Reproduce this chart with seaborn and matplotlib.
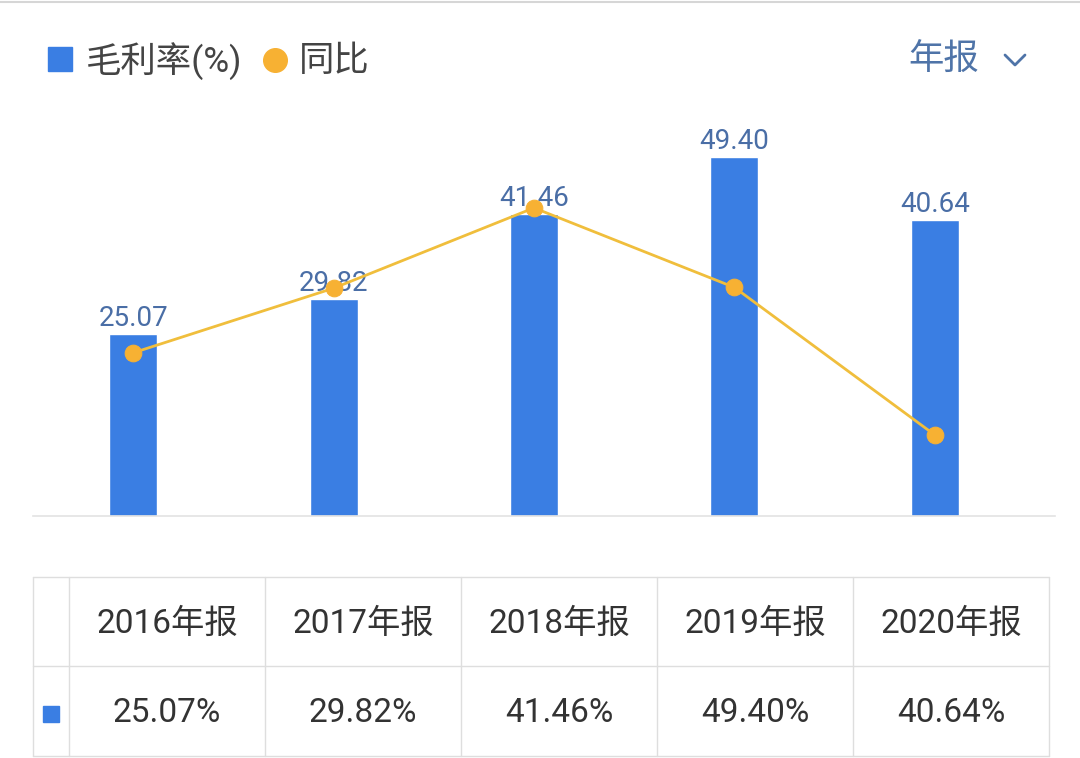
import matplotlib
matplotlib.use("Agg")
import matplotlib.pyplot as plt
from matplotlib.lines import Line2D
import seaborn as sns
import numpy as np
import pandas as pd

# ---------------- data ----------------
years = ["2016年报", "2017年报", "2018年报", "2019年报", "2020年报"]
gross_margin = [25.07, 29.82, 41.46, 49.40, 40.64]   # 毛利率(%)
yoy = [2.8, 18.95, 39.03, 19.15, -17.73]              # 同比(%)
legend_labels = ["毛利率(%)", "同比"]
period_label = "年报"

# ---------------- style ----------------
sns.set_theme(style="white")
FONT = ["Roboto", "Noto Sans CJK SC", "DejaVu Sans"]
plt.rcParams["font.family"] = FONT

BAR = "#3a7ee3"
LINE = "#f0be3c"
MARK = "#f7b133"
LABEL = "#4a6ea6"
TEXT = "#333333"
GRID = "#dedede"

W, H = 1080, 758
fig = plt.figure(figsize=(W / 100, H / 100), dpi=100)
fig.patch.set_facecolor("white")

def fx(px):
    return px / W

def fy(py):
    return 1 - py / H

# ---------------- main chart ----------------
ax = fig.add_axes([fx(33), fy(516), 1022 / W, 416 / H])
df = pd.DataFrame({"year": years, "margin": gross_margin, "yoy": yoy})
sns.barplot(data=df, x="year", y="margin", color=BAR, width=0.24,
            saturation=1, ax=ax, zorder=2)
ax.set_xlim(-0.5, 4.6)
ax.set_ylim(0, 57.2)
for p, v in zip(ax.patches, gross_margin):
    ax.annotate(f"{v:.2f}", (p.get_x() + p.get_width() / 2, p.get_height()),
                xytext=(0, 1.5), textcoords="offset points", ha="center",
                va="bottom", fontsize=20, color=LABEL, zorder=3)
ax.set_xlabel("")
ax.set_ylabel("")
ax.set_xticks([])
ax.set_yticks([])
for s in ["top", "left", "right"]:
    ax.spines[s].set_visible(False)
ax.spines["bottom"].set_color("#e3e3e3")
ax.spines["bottom"].set_linewidth(1.2)
ax.patch.set_alpha(0)

ax2 = ax.twinx()
sns.lineplot(x=np.arange(len(yoy)), y=yoy, ax=ax2, color=LINE, linewidth=2,
             marker="o", markersize=12, markerfacecolor=MARK,
             markeredgecolor=MARK, zorder=5)
ax2.set_ylim(-38, 66)
ax2.set_xlim(-0.5, 4.6)
ax2.set_yticks([])
ax2.set_ylabel("")
for s in ax2.spines.values():
    s.set_visible(False)

# ---------------- legend / header ----------------
fig.add_artist(Line2D([fx(60)], [fy(59)], marker="s", markersize=17,
                      color=BAR, linestyle="none"))
fig.text(fx(86), fy(61), legend_labels[0], fontsize=25.5, color="#444444",
         va="center", ha="left")
fig.add_artist(Line2D([fx(275)], [fy(60)], marker="o", markersize=17,
                      color=MARK, linestyle="none"))
fig.text(fx(299), fy(61), legend_labels[1], fontsize=25.5, color="#444444",
         va="center", ha="left")
fig.text(fx(908), fy(60), period_label, fontsize=25.5, color="#4f74a8",
         va="center", ha="left")
fig.add_artist(Line2D([fx(1005), fx(1015), fx(1025)],
                      [fy(55), fy(65), fy(55)], color="#4f74a8", lw=2))

# top border
fig.add_artist(Line2D([0, 1], [fy(1.5), fy(1.5)], color="#d6d6d6", lw=1.5))

# ---------------- table ----------------
tx = [33, 69, 265, 461, 657, 853, 1049]
ty = [577, 666, 756]
for x in tx:
    fig.add_artist(Line2D([fx(x), fx(x)], [fy(ty[0]), fy(ty[-1])],
                          color=GRID, lw=1))
for y in ty:
    fig.add_artist(Line2D([fx(tx[0]), fx(tx[-1])], [fy(y), fy(y)],
                          color=GRID, lw=1))
for i, (yr, v) in enumerate(zip(years, gross_margin)):
    cx = (tx[i + 1] + tx[i + 2]) / 2
    fig.text(fx(cx), fy(624), yr, fontsize=24, color=TEXT,
             ha="center", va="center")
    fig.text(fx(cx), fy(713), f"{v:.2f}%", fontsize=24, color=TEXT,
             ha="center", va="center")
fig.add_artist(Line2D([fx(51)], [fy(714)], marker="s", markersize=12,
                      color=BAR, linestyle="none"))

fig.savefig("out.png", dpi=100, facecolor="white")
